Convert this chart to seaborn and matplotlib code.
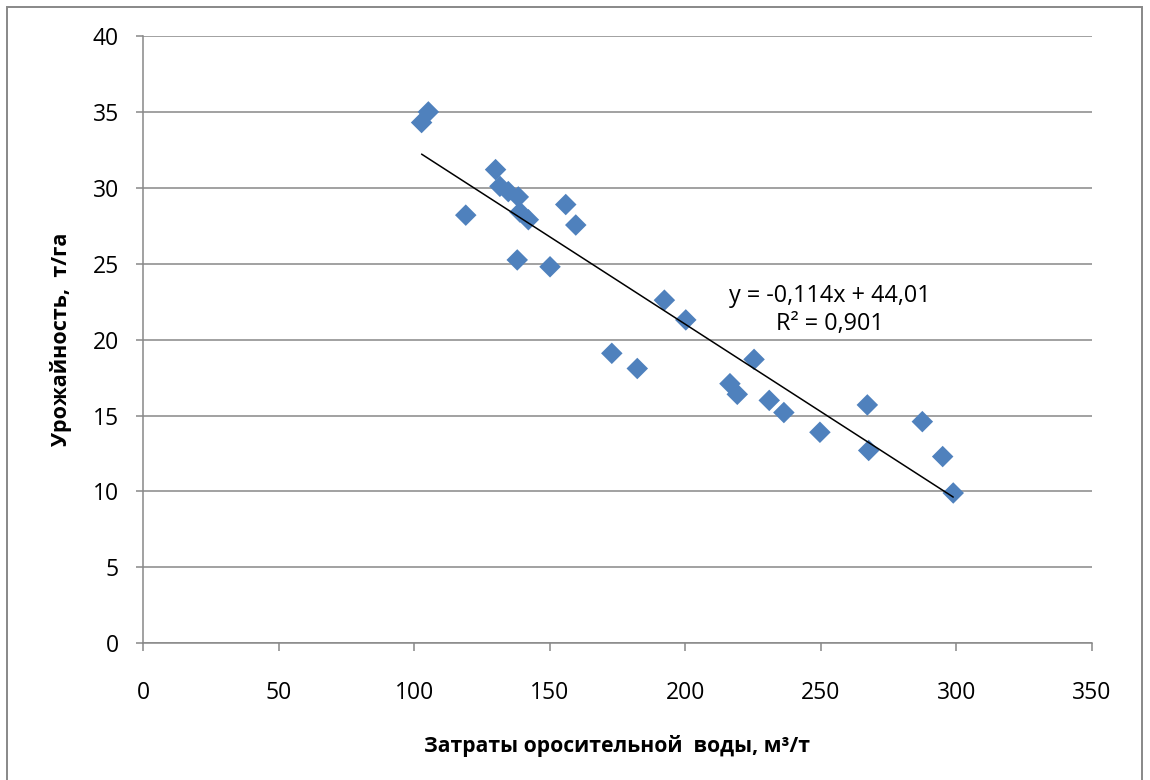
import matplotlib
matplotlib.use("Agg")
import matplotlib.pyplot as plt
import seaborn as sns
import pandas as pd
import numpy as np
from matplotlib.patches import Rectangle

# Data
water_use = [102.7, 105.2, 119.0, 130.0, 131.6, 134.7, 138.4, 139.0, 142.1,
             155.9, 159.6, 138.0, 150.1, 192.3, 200.2, 172.9, 182.3, 225.4,
             216.5, 219.2, 231.0, 236.4, 249.7, 267.2, 267.7, 287.5, 295.0, 298.9]
yield_t = [34.3, 35.0, 28.2, 31.2, 30.1, 29.75, 29.4, 28.4, 27.9,
           28.9, 27.55, 25.25, 24.8, 22.6, 21.3, 19.1, 18.1, 18.7,
           17.1, 16.4, 16.0, 15.2, 13.9, 15.7, 12.7, 14.6, 12.3, 9.9]

x_ticks = [0, 50, 100, 150, 200, 250, 300, 350]
y_ticks = [0, 5, 10, 15, 20, 25, 30, 35, 40]

x_label = "Затраты оросительной  воды, м³/т"
y_label = "Урожайность,  т/га"
eq_text = "y = -0,114x + 44,01\nR² = 0,901"

df = pd.DataFrame({"x": water_use, "y": yield_t})

sns.set_theme(style="white")
plt.rcParams["font.family"] = ["Open Sans", "DejaVu Sans"]
plt.rcParams["text.color"] = "black"
plt.rcParams["axes.labelcolor"] = "black"
plt.rcParams["xtick.labelcolor"] = "black"
plt.rcParams["ytick.labelcolor"] = "black"

GRAY = "#888888"
fig = plt.figure(figsize=(11.5, 7.8), dpi=100)
ax = fig.add_axes([143.3 / 1150, 1 - 643.3 / 780, (1091.7 - 143.3) / 1150, (643.3 - 36) / 780])

sns.scatterplot(data=df, x="x", y="y", marker="D", s=120, color="#4F81BD",
                edgecolor="none", linewidth=0, ax=ax, zorder=3)
sns.regplot(data=df, x="x", y="y", scatter=False, ci=None, ax=ax,
            line_kws={"color": "black", "linewidth": 1.1, "zorder": 4})

ax.set_xlim(0, 350)
ax.set_ylim(0, 40)
ax.set_xticks(x_ticks)
ax.set_yticks(y_ticks)
ax.yaxis.grid(True, color=GRAY, linewidth=1.1)
ax.xaxis.grid(False)
ax.set_axisbelow(True)

for s in ["top", "right"]:
    ax.spines[s].set_visible(False)
for s in ["left", "bottom"]:
    ax.spines[s].set_color(GRAY)
    ax.spines[s].set_linewidth(1.1)

ax.tick_params(axis="y", direction="out", length=5, width=1.1, color=GRAY,
               labelsize=16.5, pad=12.5, left=True, labelcolor="black")
ax.tick_params(axis="x", direction="out", length=5.5, width=1.1, color=GRAY,
               labelsize=16.5, pad=22, bottom=True, labelcolor="black")

ax.set_xlabel(x_label, fontsize=15.2, fontweight="bold", labelpad=21, color="black")
ax.set_ylabel(y_label, fontsize=15.5, fontweight="bold", labelpad=15, color="black")

ax.text(253.4, 21.96, eq_text, ha="center", va="center", fontsize=16.8,
        linespacing=1.2, zorder=5, color="black")

# outer chart border
fig.patches.append(Rectangle((7 / 1150, -0.05), (1142 - 7) / 1150, 1.05 - 7 / 780,
                             transform=fig.transFigure, fill=False,
                             edgecolor=GRAY, linewidth=1.4))

fig.savefig("out.png", dpi=100)
